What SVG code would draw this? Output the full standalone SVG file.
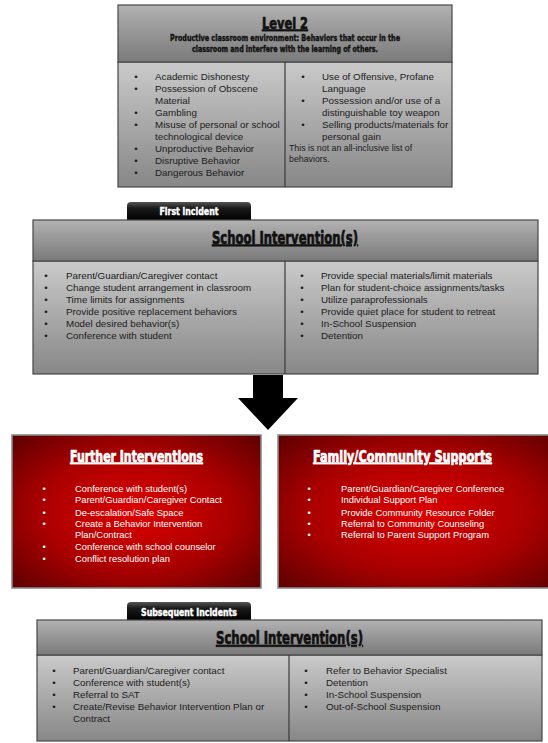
<svg xmlns="http://www.w3.org/2000/svg" width="548" height="743" viewBox="0 0 548 743">
<defs>
<linearGradient id="hdrG" x1="0" y1="0" x2="0" y2="1">
<stop offset="0" stop-color="#b4b4b4"/>
<stop offset="0.15" stop-color="#a9a9a9"/>
<stop offset="1" stop-color="#7a7a7a"/>
</linearGradient>
<linearGradient id="bodyG" x1="0" y1="0" x2="0" y2="1">
<stop offset="0" stop-color="#cacaca"/>
<stop offset="1" stop-color="#878787"/>
</linearGradient>
<linearGradient id="tabG" x1="0" y1="0" x2="0" y2="1">
<stop offset="0" stop-color="#555"/>
<stop offset="0.35" stop-color="#1a1a1a"/>
<stop offset="1" stop-color="#000"/>
</linearGradient>
<radialGradient id="redG" cx="0.5" cy="0.5" r="0.72">
<stop offset="0" stop-color="#de0000"/>
<stop offset="0.55" stop-color="#a80000"/>
<stop offset="1" stop-color="#580000"/>
</radialGradient>
<style>
.hdr{fill:url(#hdrG);stroke:#474747;stroke-width:1.2}
.bdy{fill:url(#bodyG);stroke:#474747;stroke-width:1.2}
.div{stroke:#3a3a3a;stroke-width:1.2}
.tab{fill:url(#tabG)}
.red{fill:url(#redG);stroke:#8a8a8a;stroke-width:1.6}
.t{font-family:"Liberation Sans",Arial,sans-serif;font-size:9.8px;fill:#1c1c1c}
.w{font-family:"Liberation Sans",Arial,sans-serif;font-size:9.4px;fill:#ffffff}
.ttl{font-family:"Liberation Sans Narrow","DejaVu Sans Condensed","Liberation Sans",Arial,sans-serif;font-weight:bold;text-anchor:middle;text-decoration:underline;stroke-width:0.7px;stroke-linejoin:round}
.dk{fill:#111;stroke:#111}
.wt{fill:#fff;stroke:#fff}
.sub{font-family:"Liberation Sans Narrow","DejaVu Sans Condensed","Liberation Sans",Arial,sans-serif;font-weight:bold;text-anchor:middle;font-size:8.5px;fill:#111;stroke:#111;stroke-width:0.35px}
.tabt{font-family:"Liberation Sans Narrow","DejaVu Sans Condensed","Liberation Sans",Arial,sans-serif;font-weight:bold;text-anchor:middle;font-size:10px;fill:#fff;stroke:#fff;stroke-width:0.4px}
.note{font-family:"Liberation Sans",Arial,sans-serif;font-size:8.8px;fill:#1c1c1c}
</style>
</defs>
<rect width="548" height="743" fill="#ffffff"/>

<g id="level2">
<rect class="bdy" x="118" y="62" width="334" height="125"/>
<rect class="hdr" x="118" y="5" width="334" height="57"/>
<line class="div" x1="285" y1="62" x2="285" y2="187"/>
<text class="ttl dk" x="285" y="28.5" font-size="16" textLength="46" lengthAdjust="spacingAndGlyphs">Level 2</text>
<text class="sub" x="285" y="41" textLength="230" lengthAdjust="spacingAndGlyphs">Productive classroom environment: Behaviors that occur in the</text>
<text class="sub" x="285" y="51.5" textLength="186" lengthAdjust="spacingAndGlyphs">classroom and interfere with the learning of others.</text>
<g class="t">
<text x="134.3" y="79.5">•</text><text x="155" y="79.5">Academic Dishonesty</text>
<text x="134.3" y="91.6">•</text><text x="155" y="91.6">Possession of Obscene</text>
<text x="155" y="103.6">Material</text>
<text x="134.3" y="115.7">•</text><text x="155" y="115.7">Gambling</text>
<text x="134.3" y="127.7">•</text><text x="155" y="127.7">Misuse of personal or school</text>
<text x="155" y="139.8">technological device</text>
<text x="134.3" y="151.8">•</text><text x="155" y="151.8">Unproductive Behavior</text>
<text x="134.3" y="163.9">•</text><text x="155" y="163.9">Disruptive Behavior</text>
<text x="134.3" y="175.9">•</text><text x="155" y="175.9">Dangerous Behavior</text>
<text x="301.3" y="79.5">•</text><text x="322" y="79.5">Use of Offensive, Profane</text>
<text x="322" y="91.6">Language</text>
<text x="301.3" y="103.6">•</text><text x="322" y="103.6">Possession and/or use of a</text>
<text x="322" y="115.7">distinguishable toy weapon</text>
<text x="301.3" y="127.7">•</text><text x="322" y="127.7">Selling products/materials for</text>
<text x="322" y="139.8">personal gain</text>
</g>
<text class="note" x="289" y="151.2">This is not an all-inclusive list of</text>
<text class="note" x="289" y="162.3">behaviors.</text>
</g>

<g id="tab-first">
<path class="tab" d="M127,220 V206 Q127,202 131,202 H247 Q251,202 251,206 V220 Z"/>
<text class="tabt" x="189" y="215" textLength="59" lengthAdjust="spacingAndGlyphs">First incident</text>
</g>

<g id="school1">
<rect class="bdy" x="33" y="261" width="505" height="113"/>
<rect class="hdr" x="33" y="220" width="505" height="41"/>
<line class="div" x1="285" y1="261" x2="285" y2="374"/>
<text class="ttl dk" x="285" y="243.5" font-size="17" textLength="146" lengthAdjust="spacingAndGlyphs">School Intervention(s)</text>
<g class="t">
<text x="44.3" y="278.5">•</text><text x="66" y="278.5">Parent/Guardian/Caregiver contact</text>
<text x="44.3" y="290.5">•</text><text x="66" y="290.5">Change student arrangement in classroom</text>
<text x="44.3" y="302.5">•</text><text x="66" y="302.5">Time limits for assignments</text>
<text x="44.3" y="314.5">•</text><text x="66" y="314.5">Provide positive replacement behaviors</text>
<text x="44.3" y="326.5">•</text><text x="66" y="326.5">Model desired behavior(s)</text>
<text x="44.3" y="338.5">•</text><text x="66" y="338.5">Conference with student</text>
<text x="300.3" y="278.5">•</text><text x="321" y="278.5">Provide special materials/limit materials</text>
<text x="300.3" y="290.5">•</text><text x="321" y="290.5">Plan for student-choice assignments/tasks</text>
<text x="300.3" y="302.5">•</text><text x="321" y="302.5">Utilize paraprofessionals</text>
<text x="300.3" y="314.5">•</text><text x="321" y="314.5">Provide quiet place for student to retreat</text>
<text x="300.3" y="326.5">•</text><text x="321" y="326.5">In-School Suspension</text>
<text x="300.3" y="338.5">•</text><text x="321" y="338.5">Detention</text>
</g>
</g>

<g id="connectors">
<polygon points="253,375 283,375 283,398 298,398 268,430 238,398 253,398" fill="#000"/>
</g>

<g id="further">
<rect class="red" x="12" y="435" width="249" height="153"/>
<text class="ttl wt" x="136.5" y="461.5" font-size="16" textLength="133" lengthAdjust="spacingAndGlyphs">Further Interventions</text>
<g class="w">
<text x="42.4" y="491.7">•</text><text x="75" y="491.7">Conference with student(s)</text>
<text x="42.4" y="503.4">•</text><text x="75" y="503.4">Parent/Guardian/Caregiver Contact</text>
<text x="42.4" y="515.7">•</text><text x="75" y="515.7">De-escalation/Safe Space</text>
<text x="42.4" y="527.4">•</text><text x="75" y="527.4">Create a Behavior Intervention</text>
<text x="75" y="538.2">Plan/Contract</text>
<text x="42.4" y="550.1">•</text><text x="75" y="550.1">Conference with school counselor</text>
<text x="42.4" y="562.1">•</text><text x="75" y="562.1">Conflict resolution plan</text>
</g>
</g>

<g id="family">
<rect class="red" x="278" y="435" width="285" height="153"/>
<text class="ttl wt" x="402.5" y="461.5" font-size="16" textLength="179" lengthAdjust="spacingAndGlyphs">Family/Community Supports</text>
<g class="w">
<text x="307.4" y="491.7">•</text><text x="341" y="491.7">Parent/Guardian/Caregiver Conference</text>
<text x="307.4" y="503.4">•</text><text x="341" y="503.4">Individual Support Plan</text>
<text x="307.4" y="515.7">•</text><text x="341" y="515.7">Provide Community Resource Folder</text>
<text x="307.4" y="527.4">•</text><text x="341" y="527.4">Referral to Community Counseling</text>
<text x="307.4" y="538.2">•</text><text x="341" y="538.2">Referral to Parent Support Program</text>
</g>
</g>

<g id="tab-subsequent">
<path class="tab" d="M127,620 V606 Q127,602 131,602 H247 Q251,602 251,606 V620 Z"/>
<text class="tabt" x="189" y="615.5" textLength="96" lengthAdjust="spacingAndGlyphs">Subsequent Incidents</text>
</g>

<g id="school2">
<rect class="bdy" x="37" y="655" width="505" height="86"/>
<rect class="hdr" x="37" y="620" width="505" height="35"/>
<line class="div" x1="289" y1="655" x2="289" y2="741"/>
<text class="ttl dk" x="289.5" y="644" font-size="17" textLength="147" lengthAdjust="spacingAndGlyphs">School Intervention(s)</text>
<g class="t">
<text x="52.3" y="673.5">•</text><text x="73" y="673.5">Parent/Guardian/Caregiver contact</text>
<text x="52.3" y="685.8">•</text><text x="73" y="685.8">Conference with student(s)</text>
<text x="52.3" y="697.8">•</text><text x="73" y="697.8">Referral to SAT</text>
<text x="52.3" y="709.5">•</text><text x="73" y="709.5">Create/Revise Behavior Intervention Plan or</text>
<text x="73" y="721.8">Contract</text>
<text x="304.3" y="673.5">•</text><text x="326" y="673.5">Refer to Behavior Specialist</text>
<text x="304.3" y="685.8">•</text><text x="326" y="685.8">Detention</text>
<text x="304.3" y="697.8">•</text><text x="326" y="697.8">In-School Suspension</text>
<text x="304.3" y="709.5">•</text><text x="326" y="709.5">Out-of-School Suspension</text>
</g>
</g>
</svg>
